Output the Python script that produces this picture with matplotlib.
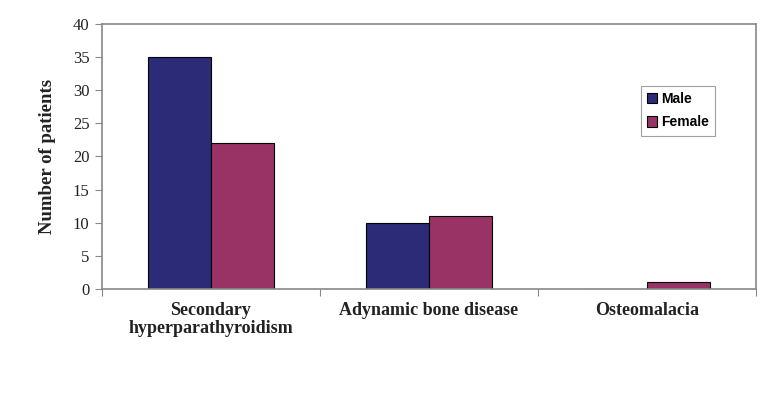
import matplotlib.pyplot as plt
import numpy as np

categories = ["Secondary\nhyperparathyroidism", "Adynamic bone disease", "Osteomalacia"]
male = [35, 10, 0]
female = [22, 11, 1]

fig = plt.figure(figsize=(7.71, 4.18), dpi=100)
ax = fig.add_axes([0.1323, 0.3086, 0.848, 0.634])

x = np.arange(len(categories))
w = 0.29
ax.bar(x - w / 2, male, w, color="#2B2B78", edgecolor="black", linewidth=0.8, label="Male")
ax.bar(x + w / 2, female, w, color="#993366", edgecolor="black", linewidth=0.8, label="Female")

ax.set_xlim(-0.5, 2.5)
ax.set_ylim(0, 40)
ax.set_yticks(range(0, 41, 5))
ax.set_yticklabels([str(v) for v in range(0, 41, 5)], family="Liberation Serif", fontsize=12, color="#222222")
ax.set_xticks([-0.5, 0.5, 1.5, 2.5])
ax.set_xticklabels([])
ax.tick_params(axis="x", length=5, color="#888888", direction="out")
ax.tick_params(axis="y", length=5, color="#888888", direction="out", pad=4)
for s in ax.spines.values():
    s.set_color("#888888")
    s.set_linewidth(1.2)

# category labels drawn as text so two-line label sits like the original
for i, c in enumerate(categories):
    ax.text(i, -2.0, c, ha="center", va="top", family="Liberation Serif",
            fontweight="bold", fontsize=13, color="#222222", linespacing=1.05)

ax.set_ylabel("Number of patients", family="Liberation Serif", fontweight="bold",
              fontsize=13.5, color="#222222", labelpad=12)

leg = ax.legend(loc="upper left", bbox_to_anchor=(0.824, 0.766), borderaxespad=0,
                frameon=True, fancybox=False,
                prop={"family": "Liberation Sans", "weight": "bold", "size": 10},
                handlelength=0.75, handleheight=0.75, handletextpad=0.25,
                borderpad=0.45, labelspacing=0.65)
leg.get_frame().set_edgecolor("#888888")
leg.get_frame().set_linewidth(0.8)

fig.savefig("out.png", dpi=100)
